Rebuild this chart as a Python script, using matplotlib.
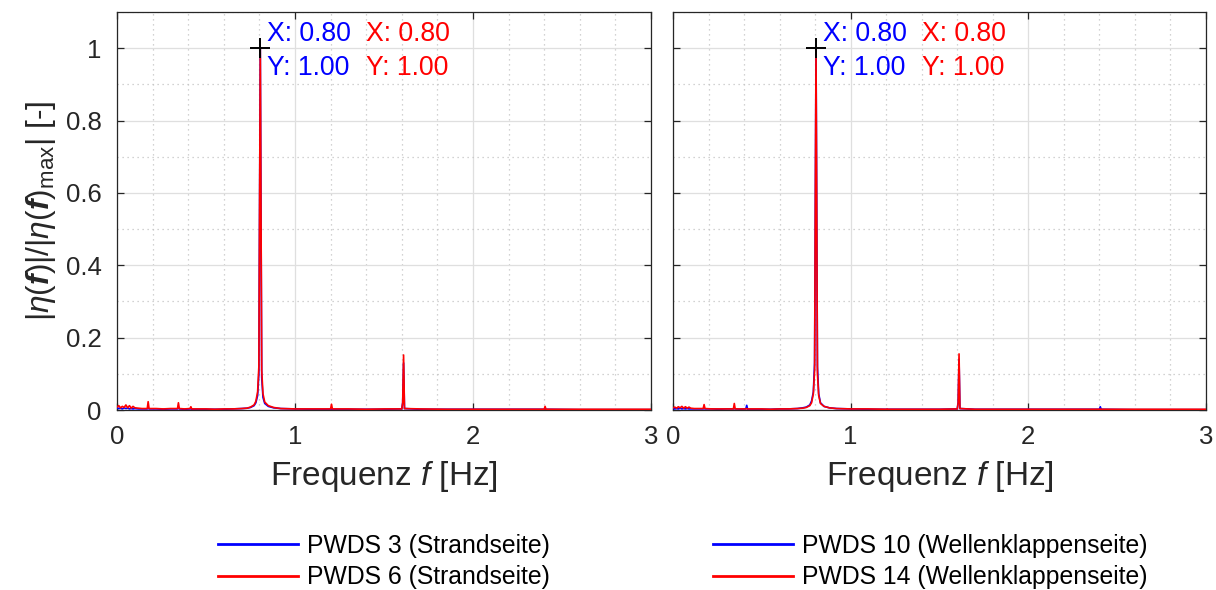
import matplotlib
matplotlib.use("Agg")
import matplotlib.pyplot as plt
from matplotlib.ticker import MultipleLocator

plt.rcParams['font.family'] = ['Liberation Sans', 'DejaVu Sans']
plt.rcParams['mathtext.fontset'] = 'custom'
plt.rcParams['mathtext.rm'] = 'Liberation Sans'
plt.rcParams['mathtext.it'] = 'Liberation Sans:italic'
plt.rcParams['mathtext.bf'] = 'Liberation Sans:bold'
plt.rcParams['mathtext.bfit'] = 'Liberation Sans:italic:bold'

# ---------------- data ----------------
freq = [0, .01, .02, .03, .04, .05, .06, .07, .08, .09,
        .10, .12, .14, .17, .175, .18, .22, .26, .30, .34,
        .345, .35, .38, .41, .415, .42, .46, .50, .55, .60,
        .65, .70, .73, .75, .77, .78, .79, .797, .805, .813,
        .82, .83, .85, .88, .92, 1.00, 1.10, 1.20, 1.205, 1.21,
        1.30, 1.40, 1.50, 1.60, 1.605, 1.61, 1.615, 1.70, 1.85, 2.00,
        2.20, 2.40, 2.405, 2.41, 2.60, 2.80, 3.00]

amp_pwds3 = [.006, .004, .005, .003, .006, .004, .005, .003, .004, .003,
             .004, .003, .003, .003, .005, .003, .003, .002, .003, .003,
             .006, .003, .002, .003, .004, .002, .002, .002, .002, .002,
             .003, .004, .005, .007, .012, .020, .040, .10, 1.0, .09,
             .035, .018, .010, .006, .004, .003, .002, .002, .003, .002,
             .002, .002, .002, .003, .02, .13, .004, .002, .002, .002,
             .002, .002, .002, .002, .001, .001, .001]

amp_pwds6 = [.008, .012, .006, .010, .007, .014, .006, .012, .005, .010,
             .006, .005, .004, .004, .023, .004, .004, .003, .004, .004,
             .020, .004, .003, .004, .009, .003, .003, .003, .002, .003,
             .003, .004, .005, .008, .014, .024, .050, .12, 1.0, .11,
             .045, .022, .012, .007, .004, .003, .003, .003, .016, .003,
             .003, .002, .003, .003, .02, .152, .004, .003, .002, .002,
             .002, .002, .010, .002, .002, .002, .002]

amp_pwds10 = [.005, .003, .004, .003, .005, .003, .004, .003, .004, .003,
              .003, .003, .003, .003, .004, .003, .003, .002, .003, .003,
              .004, .003, .002, .003, .013, .002, .002, .002, .002, .003,
              .003, .004, .006, .008, .014, .025, .050, .13, 1.0, .12,
              .045, .020, .010, .006, .004, .003, .002, .002, .002, .002,
              .002, .002, .002, .003, .02, .14, .004, .002, .002, .002,
              .002, .002, .009, .002, .001, .001, .001]

amp_pwds14 = [.006, .008, .005, .009, .006, .010, .005, .009, .005, .008,
              .005, .004, .004, .004, .015, .004, .003, .003, .003, .003,
              .018, .003, .003, .003, .004, .003, .003, .003, .002, .003,
              .003, .004, .005, .007, .012, .020, .045, .11, 1.0, .10,
              .040, .018, .010, .006, .004, .003, .003, .002, .003, .002,
              .002, .002, .002, .003, .02, .155, .004, .002, .002, .002,
              .002, .002, .003, .002, .002, .002, .002]

peak_f = 0.805
peak_amp = 1.0
peak_x_text = "X: 0.80"
peak_y_text = "Y: 1.00"

labels_left = ["PWDS 3 (Strandseite)", "PWDS 6 (Strandseite)"]
labels_right = ["PWDS 10 (Wellenklappenseite)", "PWDS 14 (Wellenklappenseite)"]
xticks = [0, 1, 2, 3]
yticks = [0, 0.2, 0.4, 0.6, 0.8, 1.0]
ytick_labels = ["0", "0.2", "0.4", "0.6", "0.8", "1"]

# ---------------- figure ----------------
W, H = 1216, 590
fig = plt.figure(figsize=(W / 100, H / 100), dpi=100)
TXT = '#262626'

def px_axes(x0, x1, y0, y1):
    return [x0 / W, 1 - y1 / H, (x1 - x0) / W, (y1 - y0) / H]

axL = fig.add_axes(px_axes(117, 651, 12, 410))
axR = fig.add_axes(px_axes(673, 1206, 12, 410))

panels = [
    (axL, amp_pwds3, amp_pwds6, labels_left, True, 0.5),
    (axR, amp_pwds10, amp_pwds14, labels_right, False, 0.483),
]

ANN = 19.2
for ax, blue, red, labels, first, legx in panels:
    lb, = ax.plot(freq, blue, color='#0000ff', lw=1.2, label=labels[0], zorder=3)
    lr, = ax.plot(freq, red, color='#ff0000', lw=1.2, label=labels[1], zorder=4)
    ax.plot([peak_f], [peak_amp], marker='+', color='black', ms=15, mew=1.4,
            zorder=5, clip_on=False)
    for txt, dx, dy, col in [(peak_x_text, 5, 10, '#0000ff'), (peak_y_text, 5, -14, '#0000ff'),
                             (peak_x_text, 76, 10, '#ff0000'), (peak_y_text, 76, -14, '#ff0000')]:
        ax.annotate(txt, (peak_f, peak_amp), xytext=(dx, dy), textcoords='offset points',
                    color=col, fontsize=ANN, va='center', ha='left', zorder=6)

    ax.set_xlim(0, 3)
    ax.set_ylim(0, 1.1)
    ax.set_xticks(xticks)
    ax.set_xticklabels([str(t) for t in xticks])
    ax.set_yticks(yticks)
    if first:
        ax.set_yticklabels(ytick_labels)
    else:
        ax.set_yticklabels([])
    ax.xaxis.set_minor_locator(MultipleLocator(0.2))
    ax.yaxis.set_minor_locator(MultipleLocator(0.1))
    ax.grid(which='major', color='#dfdfdf', lw=0.9, ls='-', zorder=0)
    ax.grid(which='minor', color='#c4c4c4', lw=0.9, ls=(0, (1, 3)), zorder=0)
    ax.set_axisbelow(True)
    ax.tick_params(which='major', direction='in', length=5, width=0.9, colors=TXT,
                   top=True, right=True, labelsize=18.5, pad=11)
    ax.tick_params(which='minor', length=0, top=True, right=True)
    for s in ax.spines.values():
        s.set_color(TXT)
        s.set_linewidth(0.9)

    ax.set_xlabel(r'Frequenz $\mathit{f}$ [Hz]', fontsize=24, color=TXT)
    ax.xaxis.set_label_coords(0.5, -0.122)
    if first:
        ax.set_ylabel(r'$|\eta(\mathbfit{f})|/|\eta(\mathbfit{f})_{\mathrm{max}}|$ [-]',
                      fontsize=22.9, color=TXT)
        ax.yaxis.set_label_coords(-0.111, 0.5)

    leg = ax.legend(handles=[lb, lr], loc='upper center', bbox_to_anchor=(legx, -0.28),
                    frameon=False, fontsize=17.8, handlelength=3.24, handletextpad=0.36,
                    labelspacing=0.3, borderpad=0)
    for h in leg.get_lines():
        h.set_linewidth(2)
    for t in leg.get_texts():
        t.set_color('black')

fig.savefig('out.png', dpi=100)
